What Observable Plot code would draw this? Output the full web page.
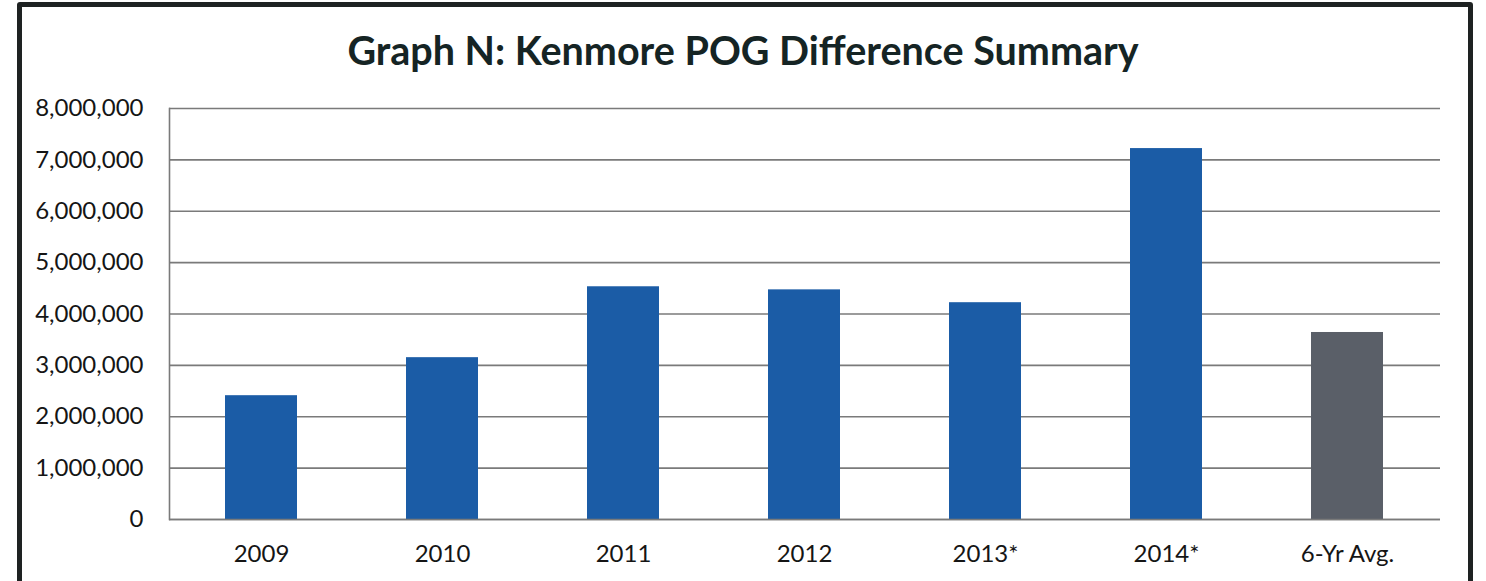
<!DOCTYPE html>
<html>
<head>
<meta charset="utf-8">
<script src="https://cdn.jsdelivr.net/npm/d3@7"></script>
<script src="https://cdn.jsdelivr.net/npm/@observablehq/plot@0.6"></script>
<style>
  html, body { margin: 0; padding: 0; background: #fff; }
  #wrap { position: relative; width: 1486px; height: 581px; overflow: hidden; font-family: Lato, "Open Sans", sans-serif; }
  #border { position: absolute; left: 17px; top: 2px; width: 1446px; height: 620px; border: 5px solid #1e2222; border-radius: 3px; pointer-events: none; }
  #title { position: absolute; left: 0; top: 30px; width: 1486px; text-align: center; font-weight: bold; font-size: 39.5px; color: #152424; line-height: 1; }
  #chart { position: absolute; left: 0; top: 0; }
</style>
</head>
<body>
<div id="wrap">
  <div id="chart"></div>
  <div id="title">Graph N: Kenmore POG Difference Summary</div>
  <div id="border"></div>
</div>
<script>
const categories = ["2009", "2010", "2011", "2012", "2013*", "2014*", "6-Yr Avg."];
const values = [2410000, 3150000, 4530000, 4470000, 4220000, 7220000, 3640000];
const kinds = ["year", "year", "year", "year", "year", "year", "avg"];
const yTicks = [0, 1000000, 2000000, 3000000, 4000000, 5000000, 6000000, 7000000, 8000000];

const data = categories.map((c, i) => ({category: c, value: values[i], kind: kinds[i]}));

const chart = Plot.plot({
  width: 1486,
  height: 581,
  marginLeft: 169,
  marginRight: 46,
  marginTop: 108,
  marginBottom: 62,
  style: {fontFamily: "Lato, 'Open Sans', sans-serif", fontSize: "24px", color: "#151515", background: "transparent"},
  x: {domain: categories, paddingInner: 0.6, paddingOuter: 0.3, label: null},
  y: {domain: [0, 8000000], label: null},
  color: {domain: ["year", "avg"], range: ["#1b5ca6", "#5a5f68"]},
  marks: [
    Plot.gridY(yTicks, {stroke: "#7a7a7a", strokeOpacity: 1, strokeWidth: 1.6}),
    Plot.barY(data, {x: "category", y: "value", fill: "kind"}),
    Plot.frame({anchor: "left", stroke: "#7a7a7a", strokeWidth: 1.6}),
    Plot.ruleY([0], {stroke: "#7a7a7a", strokeWidth: 1.6}),
    Plot.axisY({ticks: yTicks, tickFormat: d3.format(","), tickSize: 0, tickPadding: 26, fontSize: 24}),
    Plot.axisX({tickSize: 0, tickPadding: 25, fontSize: 24})
  ]
});
document.getElementById("chart").appendChild(chart);
</script>
</body>
</html>
